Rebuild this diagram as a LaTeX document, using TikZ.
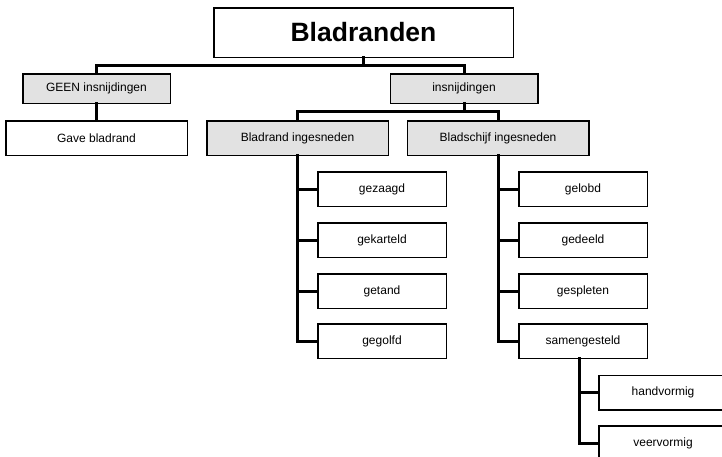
\documentclass[tikz,border=0pt]{standalone}
\usepackage{fontspec}
\setmainfont{Liberation Sans}
\definecolor{boxgray}{HTML}{E2E2E2}
\tikzset{
  box/.style={draw=black, line width=0.8pt, fill=white, inner sep=0pt, minimum height=34pt, font=\fontsize{12}{14}\selectfont},
  graybox/.style={box, fill=boxgray},
  leaf/.style={box, minimum width=128pt},
  conn/.style={line width=3pt, line cap=rect},
}
\begin{document}
\begin{tikzpicture}[x=1pt,y=-1pt]
\useasboundingbox (0,0) rectangle (722,457);
\clip (0,0) rectangle (722,457);
% nodes
\node[box, minimum width=299pt, minimum height=49pt, font=\fontsize{26.5}{30}\selectfont\bfseries] (title) at (363.5,32.5) {Bladranden};
\node[graybox, minimum width=147pt, minimum height=29pt] (geen) at (96.5,88.5) {GEEN insnijdingen};
\node[graybox, minimum width=147pt, minimum height=29pt] (ins) at (464,88.5) {insnijdingen};
\node[box, minimum width=181pt] (gave) at (96.5,138) {Gave bladrand};
\node[graybox, minimum width=181pt] (bri) at (297.5,138) {Bladrand ingesneden};
\node[graybox, minimum width=181pt] (bsi) at (498,138) {Bladschijf ingesneden};
\node[leaf] (gezaagd) at (382,189) {gezaagd};
\node[leaf] (gekarteld) at (382,240) {gekarteld};
\node[leaf] (getand) at (382,291) {getand};
\node[leaf] (gegolfd) at (382,341) {gegolfd};
\node[leaf] (gelobd) at (583,189) {gelobd};
\node[leaf] (gedeeld) at (583,240) {gedeeld};
\node[leaf] (gespleten) at (583,291) {gespleten};
\node[leaf] (samen) at (583,341) {samengesteld};
\node[leaf] (hand) at (663,392.5) {handvormig};
\node[leaf] (veer) at (663,443) {veervormig};
% connectors
\coordinate (tj) at ([yshift=-8pt]title.south);
\draw[conn] (title.south) -- (tj);
\draw[conn] (tj) -| (geen.north);
\draw[conn] (tj) -| (ins.north);
\draw[conn] (geen.south) -- (gave.north);
\coordinate (ij) at ([yshift=-8pt]ins.south);
\draw[conn] (ins.south) -- (ij);
\draw[conn] (ij) -| (bri.north);
\draw[conn] (ij) -| (bsi.north);
\draw[conn] (bri.south) |- (gegolfd.west);
\foreach \n in {gezaagd,gekarteld,getand}{\draw[conn] (bri.south |- \n.west) -- (\n.west);}
\draw[conn] (bsi.south) |- (samen.west);
\foreach \n in {gelobd,gedeeld,gespleten}{\draw[conn] (bsi.south |- \n.west) -- (\n.west);}
\coordinate (sj) at ([xshift=-4pt]samen.south);
\draw[conn] (sj) |- (veer.west);
\draw[conn] (sj |- hand.west) -- (hand.west);
% redraw box outlines on top of connector ends
\foreach \n in {title,geen,ins,gave,bri,bsi,gezaagd,gekarteld,getand,gegolfd,gelobd,gedeeld,gespleten,samen,hand,veer}{\draw[line width=0.8pt] (\n.north west) rectangle (\n.south east);}
\end{tikzpicture}
\end{document}
